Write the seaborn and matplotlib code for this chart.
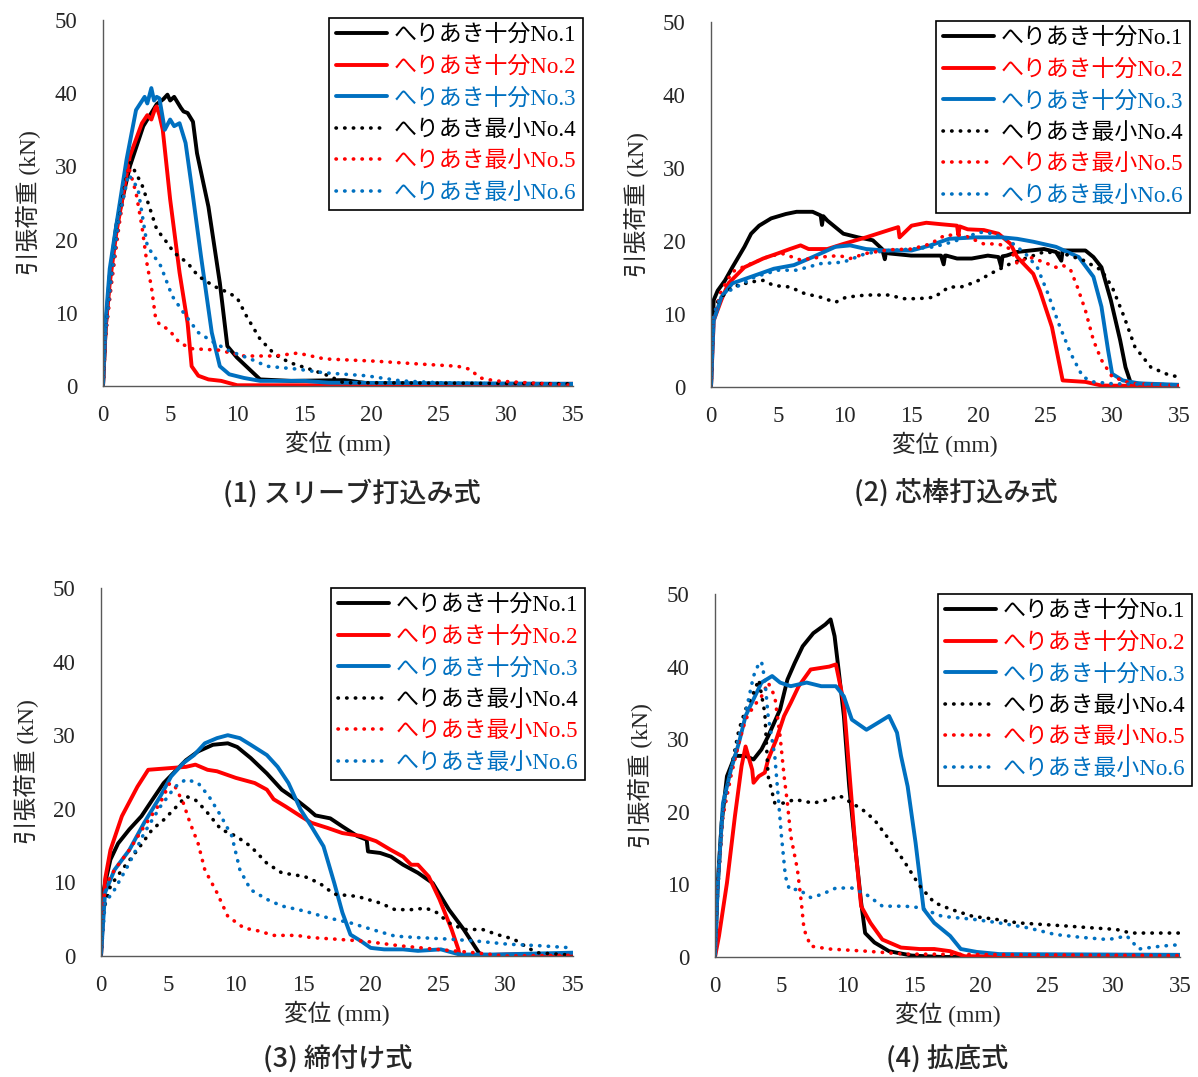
import matplotlib
matplotlib.use("Agg")
import matplotlib.pyplot as plt
import seaborn as sns
from matplotlib.ticker import MultipleLocator

# ---- data ----
labels = ["へりあき十分No.1", "へりあき十分No.2", "へりあき十分No.3",
          "へりあき最小No.4", "へりあき最小No.5", "へりあき最小No.6"]
colors = ["#000000", "#FF0000", "#0070C0", "#000000", "#FF0000", "#0070C0"]
captions = ["(1) スリーブ打込み式", "(2) 芯棒打込み式", "(3) 締付け式", "(4) 拡底式"]

# (1) sleeve
sl_x1 = [0, 0.2, 0.5, 1, 2, 3, 4, 4.5, 4.8, 5.0, 5.3, 5.8, 6.0, 6.3, 6.7, 7.0, 7.85, 8.7, 9.26, 9.97, 11.7, 14, 18, 20, 35]
sl_y1 = [0, 8, 15, 22, 30, 35.5, 38.5, 39.2, 39.8, 39.0, 39.5, 38.0, 37.5, 37.3, 36.1, 31.8, 24.5, 14.1, 5.45, 3.9, 0.9, 0.7, 0.8, 0.3, 0.2]
sl_x2 = [0, 0.2, 0.5, 1, 2.0, 2.9, 3.3, 3.6, 3.9, 4.0, 4.2, 4.45, 5.0, 5.7, 6.3, 6.6, 7.1, 7.85, 8.8, 10, 20, 35]
sl_y2 = [0, 8, 14, 21, 31.4, 35.9, 37.0, 36.4, 38.0, 38.2, 37.0, 35, 25.5, 15.5, 8.6, 2.7, 1.4, 0.9, 0.7, 0.1, 0.1, 0.3]
sl_x3 = [0, 0.2, 0.5, 0.9, 1.75, 2.46, 3.1, 3.3, 3.6, 3.8, 4.0, 4.2, 4.6, 5.0, 5.3, 5.7, 6.15, 6.6, 7.3, 8.1, 8.7, 9.4, 10.5, 11.7, 15, 16.8, 35]
sl_y3 = [0, 9, 16, 20.9, 30.9, 37.7, 39.5, 38.6, 40.7, 39.0, 39.5, 39.3, 35, 36.4, 35.5, 35.9, 33.2, 27.3, 17.7, 7.3, 2.7, 1.6, 1.1, 0.7, 0.7, 0.45, 0.3]
sl_x4 = [0, 0.2, 0.6, 1.2, 1.75, 2.04, 2.9, 3.45, 4.0, 4.6, 5.3, 6.3, 7.1, 8.3, 9.4, 10, 10.7, 11.7, 12.8, 13.9, 15.4, 16.8, 17.9, 25, 35]
sl_y4 = [0, 7.3, 14, 23, 28.6, 30.5, 27.5, 24.5, 21.4, 20, 18.2, 16.8, 15, 13.6, 12.7, 12, 9.5, 6.4, 4.3, 3.2, 2.3, 1.4, 0.45, 0.4, 0.3]
sl_x5 = [0, 0.2, 0.6, 1.2, 1.9, 2.46, 2.9, 3.3, 3.6, 3.9, 4.2, 4.9, 5.7, 6.6, 8.6, 10.5, 12.8, 14.5, 16.5, 20.2, 23.6, 26.4, 27.3, 28.1, 29.2, 31.5, 35]
sl_y5 = [0, 7, 13.5, 22, 30, 26.4, 21.8, 16.4, 13.6, 9.5, 8.4, 7.7, 5.9, 5.1, 4.9, 4.1, 4.1, 4.5, 3.7, 3.4, 3.0, 2.7, 2.3, 1.1, 0.7, 0.45, 0.1]
sl_x6 = [0, 0.2, 0.6, 1.2, 1.9, 2.6, 3.3, 4.3, 5.15, 6.0, 7.1, 8.3, 9.4, 11.1, 12.2, 14.5, 16.5, 19.6, 22.2, 25, 35]
sl_y6 = [0, 7.5, 14.5, 23, 28.9, 27, 19.1, 16.4, 12.3, 10, 7.3, 5.9, 4.8, 3.6, 2.7, 2.3, 1.8, 1.4, 0.7, 0.45, 0.1]

# (2) core pin
cr_x1 = [0, 0.2, 0.5, 1.05, 1.6, 2.5, 3.0, 3.6, 4.5, 5.6, 6.4, 7.6, 8.2, 8.3, 8.4, 8.7, 9.9, 11.0, 12.1, 12.8, 13.0, 13.1, 13.3, 14.97, 17.2, 17.4, 17.5, 17.6, 18.4, 19.5, 20.7, 21.5, 21.7, 21.8, 22.1, 22.9, 24.9, 25.8, 26.2, 26.3, 28.0, 28.6, 29.2, 29.9, 30.6, 31.0, 31.4, 35]
cr_y1 = [0, 11.9, 13.2, 14.6, 16.4, 19.2, 21.0, 22.1, 23.1, 23.7, 24.0, 24.0, 23.5, 22.2, 23.4, 22.8, 21.0, 20.5, 20.1, 18.9, 17.5, 18.6, 18.3, 18.0, 18.0, 16.8, 18.0, 18.0, 17.6, 17.6, 18.0, 17.8, 16.5, 17.9, 18.0, 18.5, 18.9, 18.5, 17.3, 18.7, 18.7, 17.8, 16.4, 11.9, 6.4, 2.7, 0.5, 0.2]
cr_x2 = [0, 0.2, 0.77, 1.3, 2.5, 3.9, 5.0, 5.9, 6.7, 7.3, 8.7, 9.9, 11.6, 13.3, 14.0, 14.1, 15.0, 16.1, 17.2, 18.4, 18.5, 18.6, 19.2, 20.4, 21.5, 22.4, 22.9, 24.1, 24.6, 25.5, 26.3, 28.0, 29.2, 35]
cr_y2 = [0, 9.1, 11.9, 14.2, 16.4, 17.6, 18.3, 18.9, 19.4, 18.9, 18.9, 19.6, 20.5, 21.5, 21.9, 20.5, 22.1, 22.5, 22.3, 22.1, 20.8, 22.0, 21.6, 21.5, 21.0, 19.6, 17.8, 15.5, 13.2, 8.2, 0.9, 0.7, 0.2, 0.1]
cr_x3 = [0, 0.2, 0.77, 1.6, 3.0, 4.7, 6.2, 7.6, 9.3, 10.4, 11.6, 13.0, 15.0, 16.4, 17.8, 19.8, 21.8, 22.9, 24.1, 25.8, 27.5, 28.6, 29.2, 29.7, 30.0, 30.8, 32, 35]
cr_y3 = [0, 9.1, 12.3, 14.2, 15.1, 16.2, 16.7, 17.8, 19.2, 19.4, 18.9, 18.7, 18.7, 19.4, 20.3, 20.5, 20.5, 20.3, 19.9, 19.2, 17.8, 15.1, 11.0, 5.0, 1.8, 0.9, 0.5, 0.3]
cr_x4 = [0, 0.2, 0.77, 1.6, 3.0, 3.9, 4.7, 5.9, 7.0, 8.2, 9.3, 10.1, 11.6, 13.3, 14.4, 15.5, 16.7, 17.8, 18.7, 19.8, 21.2, 22.4, 23.8, 24.9, 26.3, 27.8, 29.2, 30.0, 30.9, 31.7, 32.9, 34.3, 35]
cr_y4 = [0, 11, 12.3, 13.7, 14.4, 14.6, 13.9, 13.7, 12.8, 12.3, 11.6, 12.3, 12.6, 12.6, 12.1, 12.1, 12.3, 13.7, 13.7, 14.4, 15.8, 16.9, 17.8, 18.5, 18.3, 17.4, 16.0, 13.7, 9.6, 5.5, 2.7, 1.6, 1.4]
cr_x5 = [0, 0.2, 0.77, 1.6, 3.0, 4.2, 5.3, 6.7, 8.2, 9.6, 10.4, 11.6, 13.3, 15.0, 16.4, 17.5, 18.9, 20.4, 21.5, 22.4, 22.9, 23.8, 24.9, 25.8, 26.3, 26.9, 27.4, 28.0, 28.6, 29.2, 30.0, 31.4, 35]
cr_y5 = [0, 9.6, 13.2, 15.8, 16.9, 17.8, 18.3, 17.4, 17.8, 18.0, 17.6, 18.3, 18.8, 18.9, 19.6, 20.8, 20.8, 19.6, 19.6, 18.9, 16.9, 17.8, 17.1, 16.4, 16.7, 16.0, 13.7, 10.5, 6.4, 3.7, 1.4, 0.5, 0.2]
cr_x6 = [0, 0.2, 0.77, 1.9, 3.3, 5.0, 6.4, 8.2, 9.9, 11.6, 13.3, 15.0, 16.7, 18.1, 20.1, 21.2, 22.4, 23.5, 24.4, 25.2, 26.0, 26.9, 27.8, 28.6, 30, 35]
cr_y6 = [0, 10, 12.6, 13.7, 15.1, 16.0, 16.0, 16.9, 17.1, 18.3, 18.7, 18.9, 19.2, 19.9, 21.2, 21.0, 19.9, 18.3, 16.4, 12.8, 8.7, 4.6, 1.4, 0.7, 0.45, 0.3]

# (3) torque
tq_x1 = [0, 0.2, 0.7, 1.27, 2.1, 3.0, 3.8, 4.65, 5.5, 6.3, 7.2, 8.3, 9.4, 10.1, 11.1, 12.3, 13.4, 14.5, 15.4, 15.9, 17.0, 17.9, 19.0, 19.7, 19.8, 20.7, 21.5, 22.4, 23.5, 24.6, 25.8, 26.9, 28.0, 28.3, 35]
tq_y1 = [0, 9.0, 13.1, 15.3, 17.2, 19.0, 21.2, 23.5, 25.1, 26.6, 27.8, 28.7, 28.9, 28.4, 26.9, 24.8, 22.6, 21.2, 19.9, 19.1, 18.7, 17.6, 16.3, 15.8, 14.2, 14.0, 13.5, 12.4, 11.3, 9.9, 6.3, 3.6, 0.5, 0, 0]
tq_x2 = [0, 0.3, 0.7, 1.55, 2.7, 3.5, 4.9, 6.3, 7.0, 7.9, 8.6, 10.0, 11.4, 12.3, 12.8, 13.7, 14.8, 15.6, 16.8, 17.9, 19.3, 20.4, 21.5, 22.4, 23.0, 23.5, 24.3, 25.1, 26.0, 26.5, 26.6, 30, 35]
tq_y2 = [0, 10.4, 14.4, 19.0, 23.0, 25.3, 25.5, 25.7, 26.0, 25.3, 25.1, 24.2, 23.5, 22.6, 21.3, 20.3, 19.0, 18.1, 17.4, 16.7, 16.3, 15.6, 14.4, 13.5, 12.4, 12.4, 10.8, 7.7, 3.6, 0.9, 0, 0.2, 0.3]
tq_x3 = [0, 0.3, 1.0, 2.1, 3.2, 4.4, 5.2, 6.1, 6.9, 7.7, 8.6, 9.4, 10.3, 11.1, 12.3, 13.1, 13.9, 14.8, 15.6, 16.5, 17.3, 17.9, 18.5, 19.3, 20.0, 21.0, 22.4, 23.5, 25.2, 26.6, 29.1, 35]
tq_y3 = [0, 8.6, 11.7, 14.4, 18.1, 21.7, 24.4, 26.2, 27.3, 28.9, 29.6, 30.0, 29.6, 28.7, 27.3, 25.7, 23.5, 19.9, 17.6, 14.9, 9.9, 5.9, 2.9, 2.0, 1.1, 0.9, 0.9, 0.7, 0.9, 0.2, 0.2, 0.45]
tq_x4 = [0, 0.2, 0.7, 1.55, 2.7, 3.8, 4.65, 5.5, 6.3, 7.0, 7.7, 8.9, 10.0, 11.1, 12.3, 13.4, 15.1, 16.2, 17.3, 19.0, 20.7, 21.8, 23.0, 24.1, 24.9, 25.8, 26.9, 28.3, 29.4, 30.6, 31.4, 32.3, 35]
tq_y4 = [0, 6.3, 9.5, 11.7, 14.4, 17.2, 18.5, 20.1, 21.7, 21.2, 19.9, 17.2, 16.3, 14.9, 12.6, 11.3, 10.8, 9.9, 8.4, 8.1, 7.2, 6.3, 6.3, 6.5, 5.9, 4.5, 3.6, 3.6, 2.9, 2.3, 1.4, 0.45, 0.1]
tq_x5 = [0, 0.3, 1.0, 2.1, 3.2, 4.4, 5.1, 5.5, 6.1, 6.6, 7.2, 7.7, 8.6, 9.4, 10.6, 11.7, 12.8, 14.5, 15.6, 17.3, 19.6, 22.1, 24.9, 27.7, 30, 35]
tq_y5 = [0, 9.5, 11.7, 14.4, 17.6, 20.8, 23.5, 23.0, 20.8, 18.1, 15.3, 11.7, 8.6, 5.4, 3.8, 3.4, 2.8, 2.8, 2.5, 2.3, 2.0, 1.4, 0.9, 0.45, 0, 0.1]
tq_x6 = [0, 0.3, 1.0, 2.1, 3.2, 4.4, 5.5, 6.3, 7.2, 8.0, 8.9, 9.7, 10.3, 11.1, 12.3, 13.4, 15.1, 16.8, 18.5, 20.1, 21.8, 23.5, 25.8, 28.0, 30.2, 32.5, 35]
tq_y6 = [0, 7.2, 9.0, 12.6, 16.7, 20.3, 23.0, 24.0, 23.5, 21.7, 19.0, 16.3, 11.7, 9.0, 7.7, 6.8, 6.1, 5.2, 4.5, 3.6, 2.7, 2.5, 2.3, 2.0, 1.6, 1.4, 1.1]

# (4) undercut
uc_x1 = [0, 0.2, 0.5, 0.9, 1.5, 2.3, 2.9, 3.5, 4.0, 4.9, 5.45, 6.0, 6.6, 7.4, 8.3, 8.7, 9.0, 9.3, 9.7, 10.1, 10.6, 11.0, 11.3, 12.0, 13.1, 14.8, 17.1, 35]
uc_y1 = [0, 9.8, 18.5, 24.9, 27.7, 27.7, 27.2, 28.6, 30.4, 34.1, 38.2, 40.5, 42.8, 44.6, 45.8, 46.5, 44.2, 39.6, 33.2, 23.5, 14.4, 7.5, 3.3, 2.0, 0.8, 0.2, 0, 0]
uc_x2 = [0, 0.3, 0.9, 1.5, 2.0, 2.3, 2.8, 2.9, 3.3, 3.75, 4.0, 4.6, 5.2, 5.7, 6.3, 7.2, 8.6, 9.1, 9.7, 10.1, 10.6, 11.0, 11.7, 12.6, 14.0, 15.4, 16.5, 17.7, 18.8, 35]
uc_y2 = [0, 2.9, 10.2, 19.4, 26.3, 29.0, 25.8, 24.0, 24.9, 25.4, 27.2, 29.9, 33.2, 35.0, 37.3, 39.6, 40.0, 40.3, 35.0, 25.8, 14.4, 7.0, 4.7, 2.4, 1.3, 1.1, 1.1, 0.8, 0.1, 0.1]
uc_x3 = [0, 0.2, 0.6, 1.2, 1.8, 2.3, 2.9, 3.5, 4.3, 4.9, 5.7, 6.9, 8.0, 9.1, 9.7, 10.3, 11.4, 12.3, 13.1, 13.7, 14.0, 14.5, 15.1, 15.7, 16.5, 17.7, 18.5, 19.7, 21.4, 35]
uc_y3 = [0, 9.8, 21.2, 25.8, 29.5, 33.2, 35.5, 37.8, 38.7, 37.8, 37.3, 37.8, 37.3, 37.3, 35.9, 32.7, 31.3, 32.3, 33.2, 30.9, 27.7, 23.5, 15.7, 6.6, 4.7, 2.9, 1.1, 0.7, 0.4, 0.3]
uc_x4 = [0, 0.2, 0.6, 1.2, 1.8, 2.3, 2.9, 3.3, 3.75, 4.0, 4.5, 5.2, 6.0, 7.4, 8.6, 9.4, 10.3, 11.1, 12.0, 13.1, 14.3, 15.4, 16.5, 17.7, 19.4, 21.1, 22.8, 24.5, 26.2, 28.5, 30.2, 31.3, 35]
uc_y4 = [0, 9.8, 20.3, 25.8, 31.3, 34.1, 36.4, 38.2, 33.6, 24.9, 21.2, 21.2, 21.7, 21.2, 21.7, 22.2, 21.2, 20.3, 18.9, 16.2, 13.0, 9.8, 7.5, 6.6, 5.6, 5.2, 4.7, 4.5, 4.3, 4.0, 3.8, 3.3, 3.3]
uc_x5 = [0, 0.2, 0.6, 1.2, 1.8, 2.3, 2.9, 3.5, 4.0, 4.5, 4.9, 5.2, 5.45, 5.7, 6.2, 6.5, 6.7, 7.2, 8.6, 11.4, 14.3, 35]
uc_y5 = [0, 9.3, 19.4, 24.9, 29.5, 32.7, 34.5, 35.9, 37.8, 35.9, 30.4, 24.9, 21.2, 16.7, 12.1, 7.5, 3.8, 1.5, 1.1, 0.8, 0.4, 0.2]
uc_x6 = [0, 0.2, 0.6, 1.2, 1.8, 2.3, 2.9, 3.2, 3.5, 3.75, 4.0, 4.5, 4.75, 5.0, 5.3, 5.6, 6.3, 7.2, 8.0, 9.1, 10.3, 11.4, 12.6, 14.3, 15.4, 17.1, 19.4, 21.4, 23.6, 25.6, 27.6, 29.6, 31.0, 31.9, 33.6, 35]
uc_y6 = [0, 8.9, 20.3, 25.8, 30.4, 33.6, 38.7, 40.0, 40.7, 38.2, 33.2, 27.7, 22.2, 16.7, 11.1, 9.3, 9.3, 8.2, 8.6, 9.5, 9.5, 8.6, 7.0, 7.0, 6.8, 5.6, 5.2, 4.7, 4.0, 3.1, 2.7, 2.4, 2.9, 1.1, 1.5, 1.7]

panels = [
    [(sl_x1, sl_y1), (sl_x2, sl_y2), (sl_x3, sl_y3), (sl_x4, sl_y4), (sl_x5, sl_y5), (sl_x6, sl_y6)],
    [(cr_x1, cr_y1), (cr_x2, cr_y2), (cr_x3, cr_y3), (cr_x4, cr_y4), (cr_x5, cr_y5), (cr_x6, cr_y6)],
    [(tq_x1, tq_y1), (tq_x2, tq_y2), (tq_x3, tq_y3), (tq_x4, tq_y4), (tq_x5, tq_y5), (tq_x6, tq_y6)],
    [(uc_x1, uc_y1), (uc_x2, uc_y2), (uc_x3, uc_y3), (uc_x4, uc_y4), (uc_x5, uc_y5), (uc_x6, uc_y6)],
]

# ---- layout (pixel based, figure 1198 x 1077) ----
W, H = 1198, 1077
# left, right, top, bottom of each axes in px
ax_px = [(103, 573, 20, 386), (711, 1179, 22, 387), (101, 573, 588, 956), (715, 1180, 594, 957)]
leg_px = [(583, 18), (1190, 21), (585, 588), (1192, 594)]
cap_px = [(352, 493), (956, 493), (338, 1060), (947, 1060)]

sns.set_theme(style="white")
serif_jp = ["Liberation Serif", "Noto Sans CJK JP"]
plt.rcParams["font.family"] = serif_jp
plt.rcParams["axes.unicode_minus"] = False

fig = plt.figure(figsize=(W / 100, H / 100), dpi=100)
axis_grey = "#595959"

for i, curves in enumerate(panels):
    l, r, t, b = ax_px[i]
    ax = fig.add_axes([l / W, 1 - b / H, (r - l) / W, (b - t) / H])
    for j, (xs, ys) in enumerate(curves):
        if j < 3:
            sns.lineplot(x=xs, y=ys, ax=ax, sort=False, estimator=None,
                         color=colors[j], lw=2.8, label=labels[j])
        else:
            sns.lineplot(x=xs, y=ys, ax=ax, sort=False, estimator=None,
                         color=colors[j], lw=2.6, ls=(0, (0.1, 2.3)),
                         dash_capstyle="round", label=labels[j])
    ax.set_xlim(0, 35)
    ax.set_ylim(0, 50)
    ax.xaxis.set_major_locator(MultipleLocator(5))
    ax.xaxis.set_minor_locator(MultipleLocator(1))
    ax.yaxis.set_major_locator(MultipleLocator(10))
    ax.yaxis.set_minor_locator(MultipleLocator(5))
    for s in ["top", "right"]:
        ax.spines[s].set_visible(False)
    for s in ["left", "bottom"]:
        ax.spines[s].set_color(axis_grey)
        ax.spines[s].set_linewidth(1.0)
    ax.tick_params(axis="x", which="both", direction="in", length=5, color=axis_grey,
                   labelsize=16.5, pad=14)
    ax.tick_params(axis="y", which="major", direction="inout", length=9, color=axis_grey,
                   labelsize=16.5, pad=14)
    ax.tick_params(axis="y", which="minor", direction="in", length=5, color=axis_grey)
    ax.set_xlabel("変位 (mm)", fontsize=17, labelpad=3)
    ax.set_ylabel("引張荷重 (kN)", fontsize=17, labelpad=10)

    lx, ly = leg_px[i]
    leg = ax.legend(loc="upper right", bbox_to_anchor=(lx / W, 1 - ly / H),
                    bbox_transform=fig.transFigure, borderaxespad=0,
                    fontsize=16.5, handlelength=2.2, handletextpad=0.3,
                    labelspacing=0.45, borderpad=0.3, fancybox=False,
                    framealpha=1, edgecolor="black")
    leg.get_frame().set_linewidth(1.2)
    for txt, c in zip(leg.get_texts(), colors):
        txt.set_color(c)

    cx, cy = cap_px[i]
    fig.text(cx / W, 1 - cy / H, captions[i], ha="center", va="center",
             fontsize=19.5, family="Noto Sans CJK JP", fontweight="medium")

fig.savefig("out.png", dpi=100)
